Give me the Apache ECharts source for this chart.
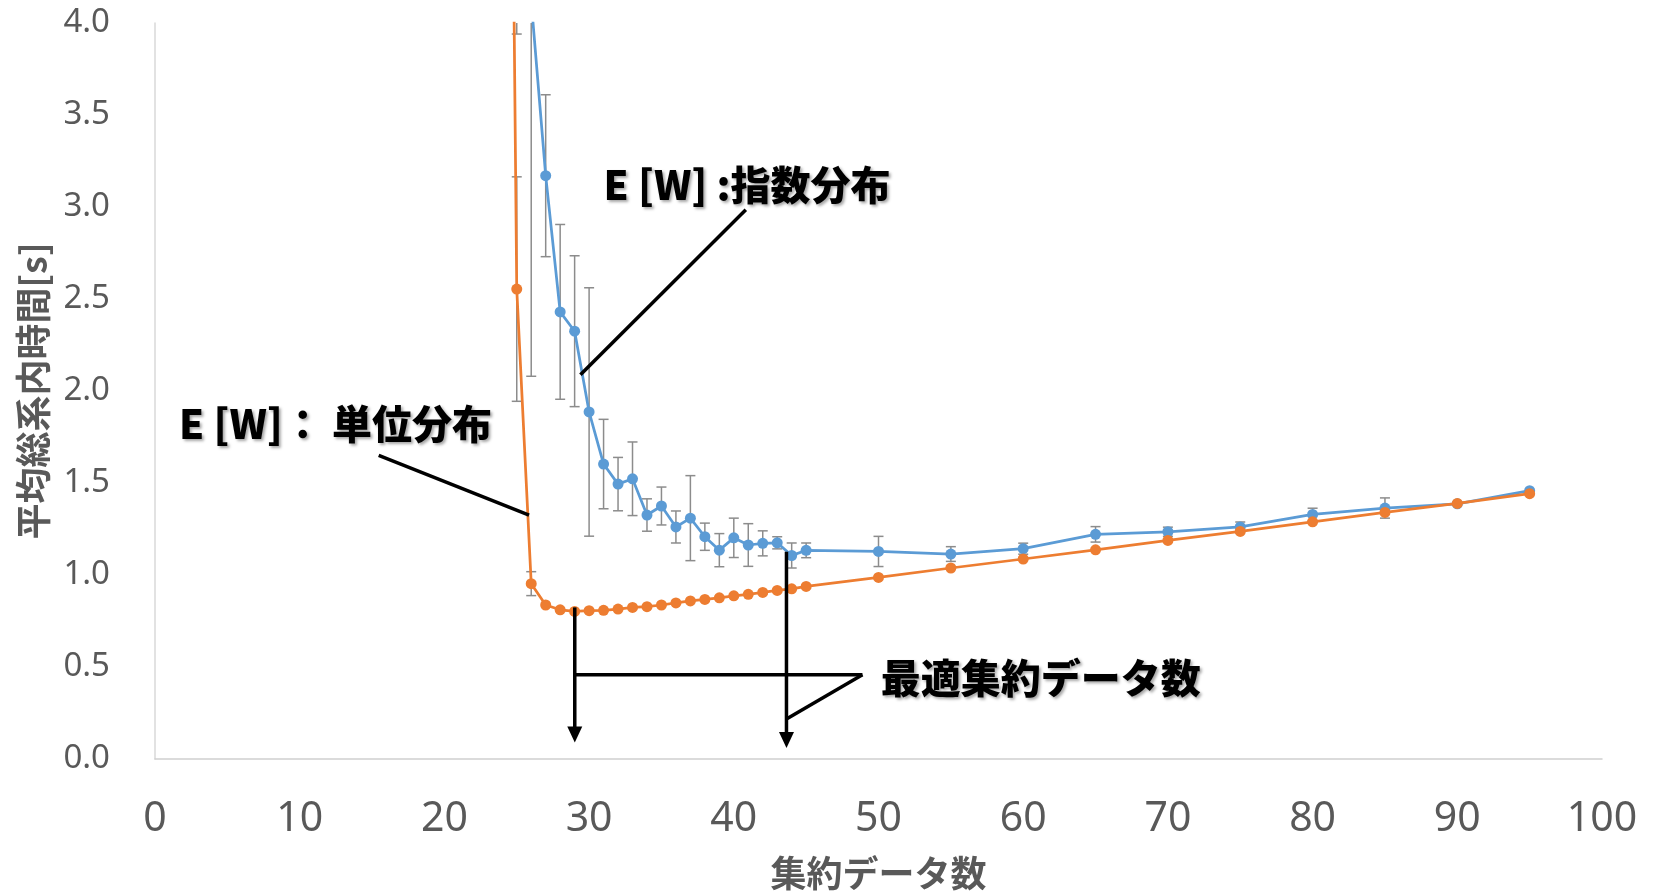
<!DOCTYPE html>
<html><head><meta charset="utf-8">
<script src="https://cdn.jsdelivr.net/npm/echarts@6/dist/echarts.min.js"></script>
<style>html,body{margin:0;padding:0;background:#fff}#c{width:1656px;height:891px}</style>
</head><body><div id="c"></div>
<script>
// ---- data ----
const xBlue = [25,26,27,28,29,30,31,32,33,34,35,36,37,38,39,40,41,42,43,44,45,50,55,60,65,70,75,80,85,90,95];
const blueVals = [8.5,4.12,3.17,2.43,2.325,1.886,1.603,1.494,1.523,1.326,1.375,1.261,1.309,1.208,1.135,1.202,1.163,1.172,1.175,1.106,1.134,1.128,1.114,1.143,1.221,1.235,1.261,1.329,1.364,1.387,1.458];
const blueErr = [4.56,2.04,0.44,0.475,0.41,0.675,0.243,0.145,0.2,0.088,0.103,0.087,0.231,0.074,0.09,0.107,0.116,0.068,0.033,0.068,0.04,0.082,0.04,0.03,0.042,0.025,0.027,0.034,0.055,0,0];
const xOrange = [24,25,26,27,28,29,30,31,32,33,34,35,36,37,38,39,40,41,42,43,44,45,50,55,60,65,70,75,80,85,90,95];
const orangeVals = [10.6,2.554,0.953,0.837,0.811,0.802,0.806,0.808,0.815,0.824,0.828,0.837,0.848,0.859,0.867,0.876,0.887,0.895,0.905,0.916,0.925,0.938,0.987,1.038,1.087,1.137,1.188,1.237,1.289,1.340,1.389,1.442];
const orangeErr = [0,0.61,0.065,0,0,0,0,0,0,0,0,0,0,0,0,0,0,0,0,0,0,0,0,0,0,0,0,0,0,0,0,0];
const xTicks = [0,10,20,30,40,50,60,70,80,90,100];
const yTicks = [0,0.5,1,1.5,2,2.5,3,3.5,4];
const seriesNames = ['E[W]:指数分布','E[W]:単位分布'];
const xTitle = '集約データ数';
const yTitle = '平均総系内時間[s]';

// ---- annotations (in data coordinates) ----
const annoLines = [
  [[40.83,2.985],[29.40,2.088]],
  [[15.46,1.650],[25.85,1.326]],
  [[29.01,0.458],[48.89,0.458]],
  [[48.89,0.458],[43.64,0.217]]
];
const annoArrows = [[29.01,0.824,0.090],[43.64,1.126,0.060]];
const annoTexts = [
  ['E [W] :指数分布',[31.0,3.121]],
  ['E [W]： 単位分布',[1.66,1.822]],
  ['最適集約データ数',[50.15,0.444]]
];

const pairs = (xs, ys) => xs.map((x,i)=>[x,ys[i]]);
const errData = (xs, ys, es) => xs.map((x,i)=>[x, ys[i]-es[i], ys[i]+es[i], es[i]]).filter(d=>d[3]>0);

function errRender(params, api){
  const x = api.value(0);
  const lo = api.coord([x, api.value(1)]);
  const hi = api.coord([x, api.value(2)]);
  const w = 5;
  const st = {stroke:'#8c8c8c', lineWidth:1.5};
  return {type:'group', children:[
    {type:'line', shape:{x1:lo[0],y1:lo[1],x2:hi[0],y2:hi[1]}, style:st},
    {type:'line', shape:{x1:lo[0]-w,y1:lo[1],x2:lo[0]+w,y2:lo[1]}, style:st},
    {type:'line', shape:{x1:hi[0]-w,y1:hi[1],x2:hi[0]+w,y2:hi[1]}, style:st}
  ]};
}

const chart = echarts.init(document.getElementById('c'), null, {renderer:'canvas'});
const axisFont = '"Noto Sans", "Noto Sans CJK JP", sans-serif';
chart.setOption({
  animation:false,
  backgroundColor:'#fff',
  grid:{left:155, right:54, top:23, bottom:132, containLabel:false, outerBoundsMode:'none'},
  xAxis:{
    type:'value', min:xTicks[0], max:xTicks[xTicks.length-1], interval:xTicks[1]-xTicks[0],
    axisLine:{show:true, lineStyle:{color:'#d0d0d0', width:1.5}},
    axisTick:{show:false}, splitLine:{show:false},
    axisLabel:{fontSize:41, color:'#595959', margin:40, fontFamily:axisFont},
    name:xTitle, nameLocation:'middle', nameGap:96,
    nameTextStyle:{fontSize:36, fontWeight:'bold', color:'#595959', fontFamily:'"Noto Sans CJK JP", sans-serif'}
  },
  yAxis:{
    type:'value', min:yTicks[0], max:yTicks[yTicks.length-1], interval:yTicks[1]-yTicks[0],
    axisLine:{show:true, lineStyle:{color:'#d9d9d9', width:1.5}},
    axisTick:{show:false}, splitLine:{show:false},
    axisLabel:{fontSize:33, color:'#595959', margin:45, fontFamily:axisFont, formatter:v=>v.toFixed(1)},
    name:yTitle, nameLocation:'middle', nameGap:104, nameRotate:90,
    nameTextStyle:{fontSize:36, fontWeight:'bold', color:'#595959', fontFamily:'"Noto Sans CJK JP", sans-serif'}
  },
  series:[
    {type:'custom', name:'errBlue', renderItem:errRender, data:errData(xBlue, blueVals, blueErr), encode:{x:0,y:[1,2]}, clip:true, z:1, silent:true},
    {type:'custom', name:'errOrange', renderItem:errRender, data:errData(xOrange, orangeVals, orangeErr), encode:{x:0,y:[1,2]}, clip:true, z:1, silent:true},
    {type:'line', name:seriesNames[0], data:pairs(xBlue, blueVals), clip:true, z:2,
      symbol:'circle', symbolSize:11, showAllSymbol:true,
      lineStyle:{color:'#5B9BD5', width:2.75}, itemStyle:{color:'#5B9BD5'}},
    {type:'line', name:seriesNames[1], data:pairs(xOrange, orangeVals), clip:true, z:3,
      symbol:'circle', symbolSize:11, showAllSymbol:true,
      lineStyle:{color:'#ED7D31', width:2.75}, itemStyle:{color:'#ED7D31'}}
  ]
});

const px = p => chart.convertToPixel({gridIndex:0}, p);
const graphics = [];
annoLines.forEach(([a,b])=>{
  const p1 = px(a), p2 = px(b);
  graphics.push({type:'line', shape:{x1:p1[0],y1:p1[1],x2:p2[0],y2:p2[1]}, style:{stroke:'#000', lineWidth:3.5}, z:10});
});
annoArrows.forEach(([x,from,to])=>{
  const p1 = px([x,from]), p2 = px([x,to]);
  graphics.push({type:'line', shape:{x1:p1[0],y1:p1[1],x2:p2[0],y2:p2[1]-14}, style:{stroke:'#000', lineWidth:3.5}, z:10});
  graphics.push({type:'polygon', shape:{points:[[p2[0]-7.5,p2[1]-16],[p2[0]+7.5,p2[1]-16],[p2[0],p2[1]]]}, style:{fill:'#000'}, z:10});
});
annoTexts.forEach(([t,at])=>{
  const p = px(at);
  graphics.push({type:'text', x:p[0], y:p[1], z:11, style:{
    text:t, fill:'#000', fontSize:40, fontWeight:900, fontFamily:'"Noto Sans CJK JP", sans-serif',
    align:'left', verticalAlign:'middle',
    textShadowColor:'rgba(0,0,0,0.35)', textShadowBlur:3, textShadowOffsetX:2, textShadowOffsetY:2
  }});
});
chart.setOption({graphic:graphics});
</script>
</body></html>
